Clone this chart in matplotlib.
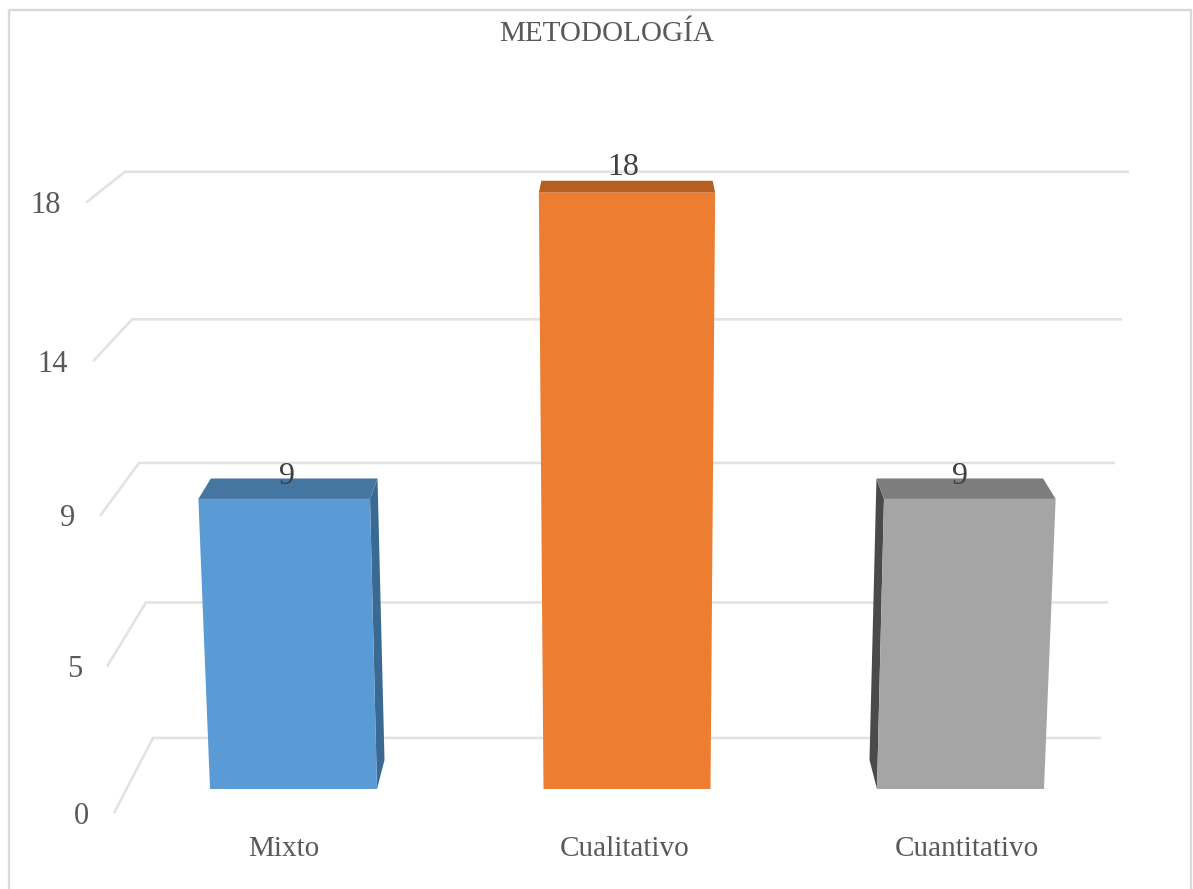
import matplotlib
matplotlib.use("Agg")
import matplotlib.pyplot as plt
from matplotlib.patches import Polygon, Rectangle

title = "METODOLOGÍA"
categories = ["Mixto", "Cualitativo", "Cuantitativo"]
values = [9, 18, 9]
tick_values = [0, 4.5, 9, 13.5, 18]
tick_labels = ["0", "5", "9", "14", "18"]

FRONT_COLORS = ["#5B9BD5", "#ED7D31", "#A5A5A5"]
TOP_COLORS = ["#4575A1", "#B55F22", "#7D7D7D"]
SIDE_COLORS = ["#3A6A94", None, "#4A4A4A"]
GRID = "#E3E3E3"
TEXT = "#595959"
FONT = ["Liberation Serif", "DejaVu Serif"]

W, H = 1193, 889
CX = 627.0
SPACING, HALF_W = 333.5, 83.5
WALL_X = 500.5
D_FRONT, D_BACK, D_WALL, D_EDGE = 0.0, 1.0, 1.76, -0.83


def project(x, v, d):
    """Map a chart point (horizontal unit, value, depth) to picture pixels."""
    s = 1 + 0.0031 * v - 0.03 * d
    y = 789 - 29 * d - (31.33 - 0.95 * d) * v - 0.1 * v * v
    return CX + x * s, y


fig = plt.figure(figsize=(W / 100, H / 100), dpi=100, facecolor="white")
ax = fig.add_axes([0, 0, 1, 1])
ax.set_xlim(0, W)
ax.set_ylim(H, 0)
ax.axis("off")

ax.add_patch(Rectangle((9, 10), 1182, 900, fill=False, ec="#D9D9D9", lw=1.7, zorder=1))

# Gridlines on the back wall and side wall
for v, lab in zip(tick_values, tick_labels):
    p0 = project(-WALL_X, v, D_EDGE)
    p1 = project(-WALL_X, v, D_WALL)
    p2 = project(WALL_X, v, D_WALL)
    ax.plot([p0[0], p1[0], p2[0]], [p0[1], p1[1], p2[1]], color=GRID, lw=1.9,
            solid_joinstyle="miter", solid_capstyle="butt", zorder=2)
    ax.text(p0[0] - 25, p0[1] + 3, lab, ha="right", va="center", fontsize=22,
            family=FONT, color=TEXT, zorder=6)

# 3D bars
label_dx = [-7, -4, 0]
label_lift = [2, 13, 2]
for i, (cat, val) in enumerate(zip(categories, values)):
    xc = (i - 1) * SPACING
    xl, xr = xc - HALF_W, xc + HALF_W
    if SIDE_COLORS[i]:
        xs = xr if i == 0 else xl
        side = [project(xs, val, D_FRONT), project(xs, val, D_BACK),
                project(xs, 0, D_BACK), project(xs, 0, D_FRONT)]
        ax.add_patch(Polygon(side, closed=True, fc=SIDE_COLORS[i], ec="none", zorder=3))
    top = [project(xl, val, D_FRONT), project(xr, val, D_FRONT),
           project(xr, val, D_BACK), project(xl, val, D_BACK)]
    ax.add_patch(Polygon(top, closed=True, fc=TOP_COLORS[i], ec="none", zorder=3))
    front = [project(xl, val, D_FRONT), project(xr, val, D_FRONT),
             project(xr, 0, D_FRONT), project(xl, 0, D_FRONT)]
    ax.add_patch(Polygon(front, closed=True, fc=FRONT_COLORS[i], ec="none", zorder=4))

    lx, ly = project(xc, val, D_BACK)
    ax.text(lx + label_dx[i], ly - label_lift[i], str(val), ha="center", va="center",
            fontsize=23, family=FONT, color="#404040", zorder=6)
    ax.text(625 + xc * 1.024, 849, cat, ha="center", va="center", fontsize=21,
            family=FONT, color=TEXT, zorder=6)

ax.text(606.5, 34, title, ha="center", va="center", fontsize=21, family=FONT,
        color=TEXT, zorder=6)

fig.savefig("out.png", dpi=100, facecolor="white")
